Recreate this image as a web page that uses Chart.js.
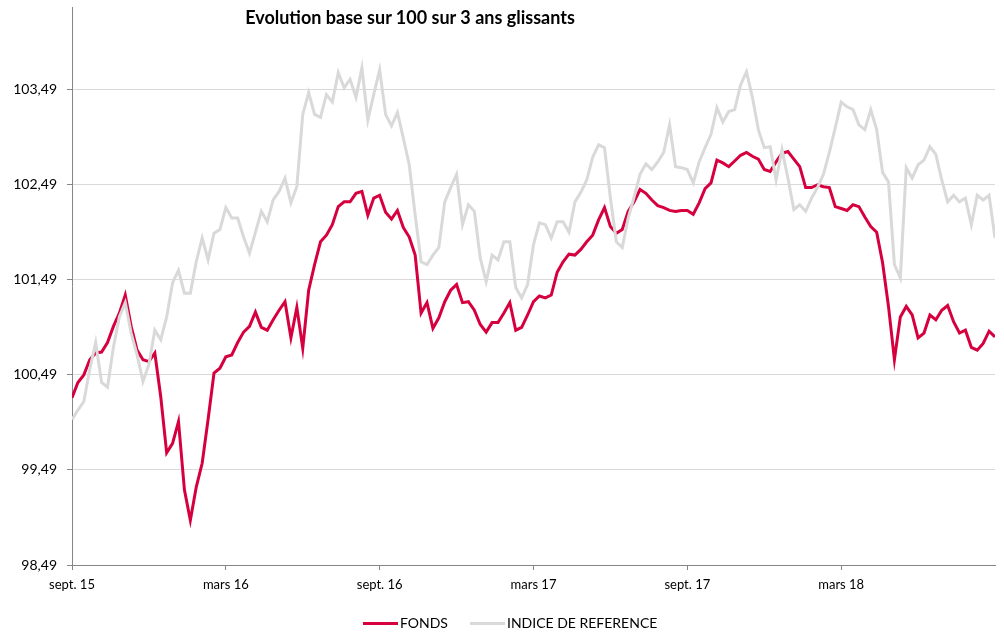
<!DOCTYPE html>
<html>
<head>
<meta charset="utf-8">
<script src="https://cdn.jsdelivr.net/npm/chart.js@4/dist/chart.umd.min.js"></script>
<style>
  html, body { margin: 0; padding: 0; background: #fff; }
  #wrap { position: relative; width: 1004px; height: 632px; font-family: Lato, "Open Sans", sans-serif; }
  #title {
    position: absolute; left: 0; width: 820px; top: 6px;
    text-align: center; font-weight: bold; font-size: 18px; color: #000;
  }
  #legend { position: absolute; top: 614px; left: 363px; height: 18px; font-size: 14px; color: #000; white-space: nowrap; }
  #legend .item { display: inline-block; margin-right: 22px; }
  #legend .line { display: inline-block; width: 35px; height: 3px; vertical-align: middle; margin-right: 2px; position: relative; top: -1px; }
</style>
</head>
<body>
<div id="wrap">
  <canvas id="myChart" width="1004" height="632"></canvas>
  <div id="title">Evolution base sur 100 sur 3 ans glissants</div>
  <div id="legend"></div>
</div>
<script>
// weekly points from sept. 15 (week 0) to end of aug. 18 (week 156)
const tickWeeks = [0, 26, 52, 78, 104, 130];
const tickLabels = ["sept. 15", "mars 16", "sept. 16", "mars 17", "sept. 17", "mars 18"];
const yTicks = [98.49, 99.49, 100.49, 101.49, 102.49, 103.49];

const fonds = [
  100.25, 100.41, 100.49, 100.65, 100.72, 100.73, 100.83, 101.00, 101.14, 101.33,
  101.00, 100.75, 100.65, 100.63, 100.72, 100.26, 99.67, 99.77, 100.00, 99.28,
  98.96, 99.31, 99.56, 100.02, 100.51, 100.56, 100.68, 100.70, 100.83, 100.94,
  101.00, 101.15, 100.99, 100.96, 101.07, 101.17, 101.26, 100.88, 101.20, 100.77,
  101.38, 101.65, 101.89, 101.96, 102.07, 102.26, 102.31, 102.31, 102.40, 102.42,
  102.17, 102.35, 102.38, 102.20, 102.13, 102.22, 102.04, 101.94, 101.75, 101.14,
  101.25, 100.98, 101.09, 101.26, 101.38, 101.44, 101.25, 101.26, 101.17, 101.02,
  100.94, 101.04, 101.04, 101.14, 101.25, 100.96, 100.99, 101.12, 101.26, 101.32,
  101.30, 101.33, 101.57, 101.68, 101.76, 101.75, 101.81, 101.89, 101.96, 102.12,
  102.25, 102.05, 101.98, 102.02, 102.21, 102.31, 102.44, 102.40, 102.33, 102.27,
  102.25, 102.22, 102.21, 102.22, 102.22, 102.18, 102.30, 102.45, 102.51, 102.75,
  102.72, 102.68, 102.74, 102.80, 102.83, 102.79, 102.76, 102.65, 102.63, 102.73,
  102.82, 102.84, 102.76, 102.68, 102.46, 102.46, 102.49, 102.47, 102.46, 102.26,
  102.24, 102.22, 102.28, 102.26, 102.15, 102.05, 101.99, 101.67, 101.21, 100.65,
  101.10, 101.21, 101.12, 100.88, 100.93, 101.12, 101.07, 101.17, 101.22, 101.05,
  100.93, 100.96, 100.78, 100.75, 100.82, 100.95, 100.89
];

const indice = [
  100.02, 100.12, 100.21, 100.55, 100.83, 100.41, 100.36, 100.78, 101.10, 101.25,
  100.93, 100.70, 100.42, 100.60, 100.96, 100.86, 101.10, 101.46, 101.59, 101.35,
  101.35, 101.68, 101.93, 101.70, 101.98, 102.02, 102.25, 102.14, 102.14, 101.94,
  101.77, 101.99, 102.21, 102.10, 102.33, 102.42, 102.56, 102.30, 102.47, 103.23,
  103.46, 103.23, 103.20, 103.44, 103.36, 103.67, 103.51, 103.60, 103.41, 103.72,
  103.17, 103.44, 103.70, 103.23, 103.11, 103.25, 102.98, 102.70, 102.17, 101.68,
  101.65, 101.75, 101.83, 102.31, 102.46, 102.60, 102.07, 102.28, 102.21, 101.72,
  101.47, 101.75, 101.70, 101.89, 101.89, 101.41, 101.30, 101.44, 101.86, 102.09,
  102.07, 101.93, 102.10, 102.10, 101.99, 102.31, 102.41, 102.54, 102.78, 102.91,
  102.88, 102.35, 101.89, 101.83, 102.14, 102.36, 102.60, 102.71, 102.65, 102.73,
  102.83, 103.12, 102.68, 102.67, 102.65, 102.51, 102.73, 102.88, 103.02, 103.30,
  103.15, 103.26, 103.28, 103.54, 103.68, 103.41, 103.07, 102.88, 102.89, 102.54,
  102.86, 102.56, 102.23, 102.28, 102.21, 102.35, 102.46, 102.60, 102.83, 103.09,
  103.36, 103.31, 103.28, 103.12, 103.07, 103.28, 103.07, 102.62, 102.52, 101.65,
  101.51, 102.67, 102.56, 102.70, 102.75, 102.89, 102.81, 102.54, 102.31, 102.38,
  102.31, 102.35, 102.07, 102.38, 102.33, 102.38, 101.93
];

const toPoints = (arr) => arr.map((v, i) => ({ x: i, y: v }));
const fmt = (v) => v.toFixed(2).replace(".", ",");

Chart.defaults.font.family = "Lato, 'Open Sans', sans-serif";
Chart.defaults.color = "#000";

const chart = new Chart(document.getElementById("myChart"), {
  type: "line",
  data: {
    datasets: [
      {
        label: "FONDS",
        data: toPoints(fonds),
        borderColor: "#D6003F",
        backgroundColor: "#D6003F",
        borderWidth: 3,
        pointRadius: 0,
        tension: 0,
        order: 2,
      },
      {
        label: "INDICE DE REFERENCE",
        data: toPoints(indice),
        borderColor: "#D9D9D9",
        backgroundColor: "#D9D9D9",
        borderWidth: 3,
        pointRadius: 0,
        tension: 0,
        order: 1,
      },
    ],
  },
  options: {
    responsive: false,
    animation: false,
    layout: { padding: { left: 0, right: 9, top: 7, bottom: 34 } },
    plugins: {
      tooltip: { enabled: false },
      legend: { display: false },
    },
    scales: {
      x: {
        type: "linear",
        min: 0,
        max: 156,
        afterBuildTicks: (scale) => { scale.ticks = tickWeeks.map((v) => ({ value: v })); },
        afterFit: (scale) => { scale.height = 33; scale.paddingLeft = 0; scale.paddingRight = 0; },
        ticks: {
          autoSkip: false,
          maxRotation: 0,
          font: { size: 13 },
          padding: 7,
          callback: (v) => tickLabels[tickWeeks.indexOf(v)],
        },
        grid: { drawOnChartArea: false, tickLength: 5, color: "#868686" },
        border: { color: "#868686", width: 1 },
      },
      y: {
        min: 98.49,
        max: 104.36,
        afterBuildTicks: (scale) => { scale.ticks = yTicks.map((v) => ({ value: v })); },
        afterFit: (scale) => { scale.width = 72; scale.paddingTop = 0; scale.paddingBottom = 0; },
        ticks: {
          font: { size: 14 },
          padding: 10,
          callback: (v) => fmt(v),
        },
        grid: { color: "#D9D9D9", tickColor: "#868686", tickLength: 5 },
        border: { color: "#868686", width: 1 },
      },
    },
  },
});

// legend as html text, same order and colours as the datasets
document.getElementById("legend").innerHTML = chart.data.datasets
  .map((d) => `<span class="item"><span class="line" style="background:${d.borderColor}"></span>${d.label}</span>`)
  .join("");
</script>
</body>
</html>
